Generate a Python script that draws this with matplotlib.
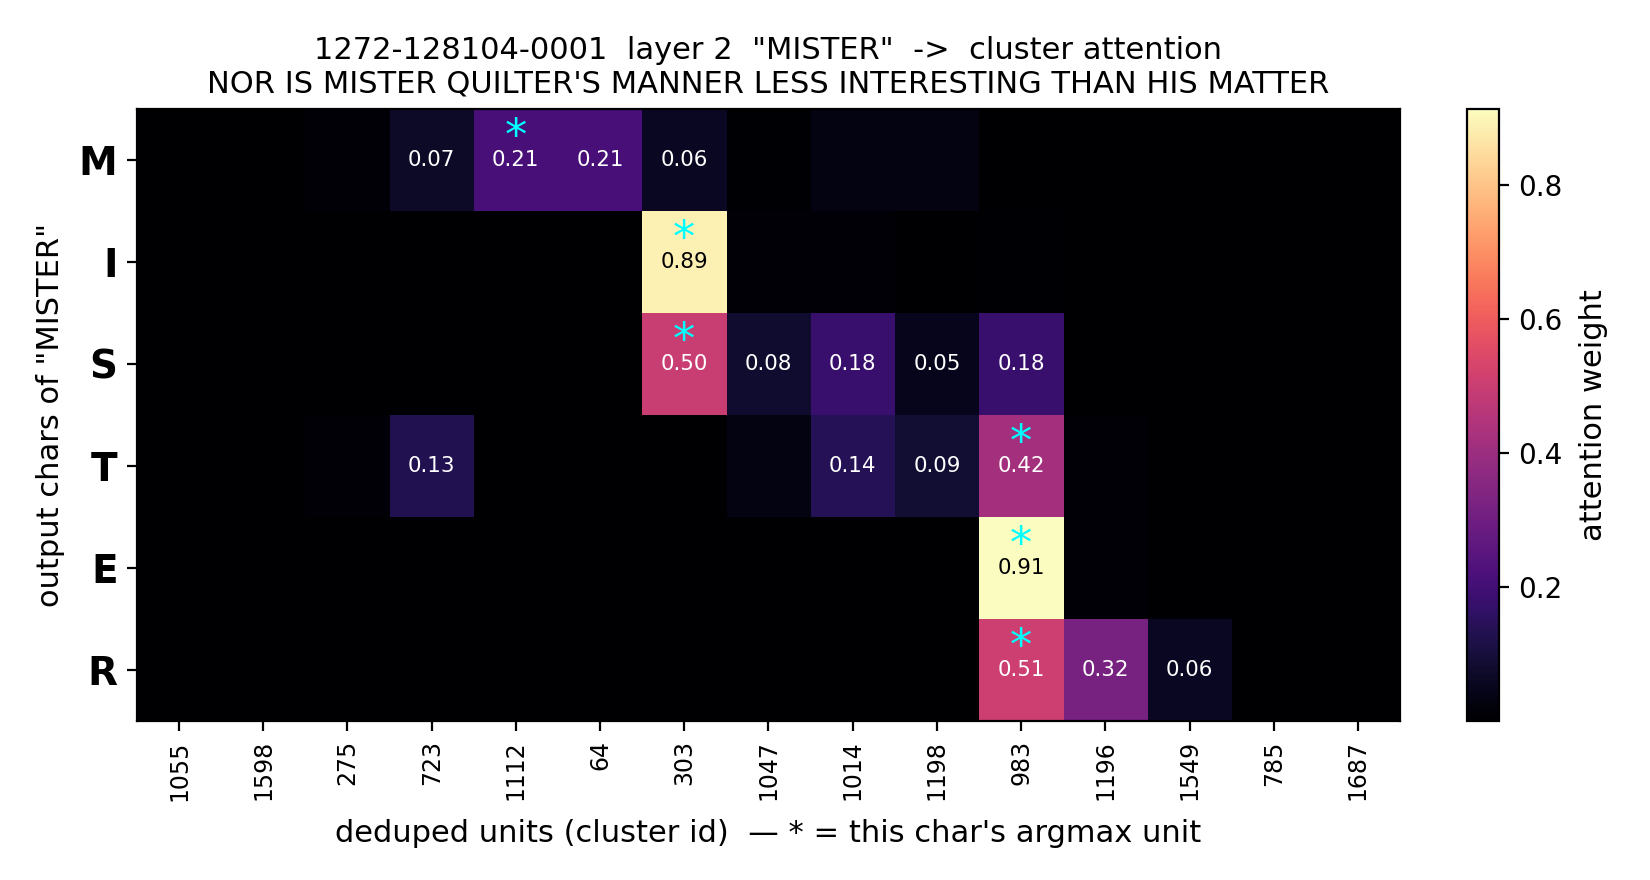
import numpy as np
import matplotlib
matplotlib.use("Agg")
import matplotlib.pyplot as plt

# deduped units (cluster ids) along x, output chars along y
units = ['1055', '1598', '275', '723', '1112', '64', '303', '1047',
         '1014', '1198', '983', '1196', '1549', '785', '1687']
chars = ['M', 'I', 'S', 'T', 'E', 'R']

# attention weights, one row per output char
row_m = [0.001, 0.001, 0.015, 0.07, 0.21, 0.21, 0.06, 0.006, 0.03, 0.03, 0.003, 0.003, 0.001, 0.001, 0.001]
row_i = [0.001, 0.001, 0.001, 0.001, 0.001, 0.001, 0.89, 0.012, 0.012, 0.001, 0.008, 0.001, 0.001, 0.001, 0.001]
row_s = [0.001, 0.001, 0.001, 0.001, 0.001, 0.001, 0.50, 0.08, 0.18, 0.05, 0.18, 0.001, 0.001, 0.001, 0.001]
row_t = [0.001, 0.001, 0.015, 0.13, 0.004, 0.001, 0.001, 0.03, 0.14, 0.09, 0.42, 0.01, 0.001, 0.001, 0.001]
row_e = [0.001, 0.001, 0.001, 0.001, 0.001, 0.001, 0.001, 0.001, 0.001, 0.001, 0.914, 0.01, 0.001, 0.001, 0.001]
row_r = [0.001, 0.001, 0.001, 0.001, 0.001, 0.001, 0.002, 0.002, 0.002, 0.004, 0.51, 0.32, 0.06, 0.002, 0.002]

att = np.array([row_m, row_i, row_s, row_t, row_e, row_r])
argmax = att.argmax(axis=1)

fig = plt.figure(figsize=(8.25, 4.4), dpi=200)
ax = fig.add_axes([0.083, 0.181, 0.7655, 0.695])
cax = fig.add_axes([0.889, 0.181, 0.0194, 0.695])

im = ax.imshow(att, cmap='magma', aspect='auto', interpolation='nearest')

for r in range(att.shape[0]):
    for c in range(att.shape[1]):
        v = att[r, c]
        if v >= 0.05:
            ax.text(c, r, f"{v:.2f}", ha='center', va='center', fontsize=7.7,
                    color='black' if v > 0.7 else 'white')
    ax.text(argmax[r], r - 0.22, '*', ha='center', va='center',
            fontsize=16, color='cyan')

ax.set_xticks(range(len(units)))
ax.set_xticklabels(units, rotation=90, fontsize=8.5)
ax.set_yticks(range(len(chars)))
ax.set_yticklabels(chars, fontsize=14, fontweight='bold')
ax.set_xlabel("deduped units (cluster id)  \u2014 * = this char's argmax unit",
              fontsize=11, labelpad=6.5)
ax.set_ylabel('output chars of "MISTER"', fontsize=11, labelpad=5)
ax.set_title('1272-128104-0001  layer 2  "MISTER"  ->  cluster attention\n'
             "NOR IS MISTER QUILTER'S MANNER LESS INTERESTING THAN HIS MATTER",
             fontsize=11)

cb = fig.colorbar(im, cax=cax)
cb.set_label('attention weight', fontsize=11, labelpad=6)

fig.savefig('out.png', dpi=200)
